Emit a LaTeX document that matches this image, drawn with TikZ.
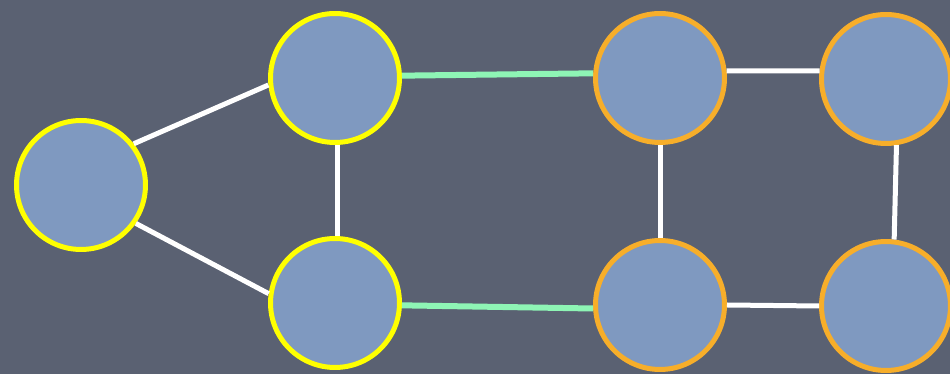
\documentclass[tikz,border=0pt]{standalone}
\usepackage{tikz}
\usepackage{xcolor}
\definecolor{fondo}{HTML}{5A6172}
\definecolor{relleno}{HTML}{7F99C0}
\definecolor{amarillo}{HTML}{FFFF00}
\definecolor{naranja}{HTML}{F7AE2A}
\definecolor{puente}{HTML}{8EF5B5}

\begin{document}
\begin{tikzpicture}[
    x=0.02cm,y=-0.02cm,
    vertex/.style={circle,fill=relleno,line width=0.1cm,minimum size=2.58cm,inner sep=0pt},
    left/.style={vertex,draw=amarillo},
    right/.style={vertex,draw=naranja},
    link/.style={draw=white,line width=0.1cm},
    bridge/.style={draw=puente,line width=0.12cm}
  ]
    \fill[fondo] (0,0) rectangle (950,374);
    \useasboundingbox (0,0) rectangle (950,374);
    \node[left] (a) at (81,185) {};
    \node[left] (b) at (335,78) {};
    \node[left] (c) at (335,303) {};
    \node[right] (d) at (660,78) {};
    \node[right] (e) at (660,305) {};
    \node[right] (f) at (886,79) {};
    \node[right] (g) at (886,306) {};
    \draw[link] (a.38) -- (b.186);
    \draw[link] (a.-35) -- (c.172);
    \draw[link] (b.-88) -- (c.88);
    \draw[link] (d.-90) -- (e.90);
    \draw[link] (d.6) -- (f.173);
    \draw[link] (f.-81) -- (g.83);
    \draw[link] (e.0) -- (g.180);
    \draw[bridge] (b.2) -- (d.176);
    \draw[bridge] (c.-2) -- (e.183);
  \end{tikzpicture}
\end{document}
